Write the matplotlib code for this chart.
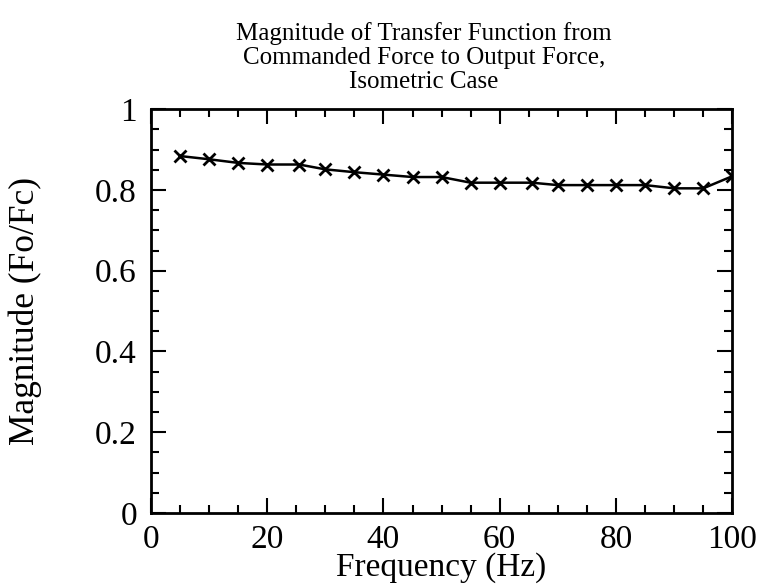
import matplotlib
matplotlib.use('Agg')
import matplotlib.pyplot as plt
from matplotlib.ticker import MultipleLocator

# data
freq = [5, 10, 15, 20, 25.5, 30, 35, 40, 45, 50,
        55, 60, 65.5, 70, 75, 80, 85, 90, 95, 100]
magnitude = [0.884, 0.876, 0.867, 0.863, 0.863, 0.851, 0.844, 0.838, 0.832, 0.832,
             0.818, 0.818, 0.818, 0.812, 0.812, 0.812, 0.812, 0.804, 0.804, 0.834]

plt.rcParams['font.family'] = ['Liberation Serif', 'DejaVu Serif']

fig = plt.figure(figsize=(7.62, 5.87), dpi=100)
ax = fig.add_axes([0.198, 0.126, 0.763, 0.688])

ax.plot(freq, magnitude, 'k-', marker='x', markersize=8, markeredgewidth=2, linewidth=1.8)

ax.set_xlim(0, 100)
ax.set_ylim(0, 1)
ax.xaxis.set_major_locator(MultipleLocator(20))
ax.xaxis.set_minor_locator(MultipleLocator(5))
ax.yaxis.set_major_locator(MultipleLocator(0.2))
ax.yaxis.set_minor_locator(MultipleLocator(0.05))
ax.yaxis.set_major_formatter(plt.FuncFormatter(lambda v, p: f'{v:g}'))

ax.tick_params(which='both', direction='in', top=True, right=True, width=1.5, labelsize=24)
ax.tick_params(which='major', length=11)
ax.tick_params(axis='y', which='major', pad=10)
ax.tick_params(axis='x', which='major', pad=8)
ax.tick_params(which='minor', length=6)
for s in ax.spines.values():
    s.set_linewidth(2)

ax.set_xlabel('Frequency (Hz)', fontsize=24, labelpad=-2)
ax.set_ylabel('Magnitude (Fo/Fc)', fontsize=25.5, labelpad=38)
ax.set_title('Magnitude of Transfer Function from\nCommanded Force to Output Force,\nIsometric Case',
             fontsize=18, linespacing=1.12, pad=15, x=0.47)

fig.savefig('out.png', dpi=100)
